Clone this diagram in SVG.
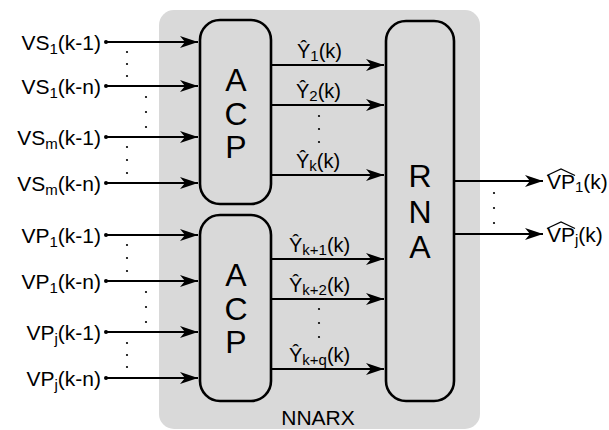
<svg xmlns="http://www.w3.org/2000/svg" width="609" height="430" viewBox="0 0 609 430">
<defs>
<marker id="ah" markerWidth="20" markerHeight="14" viewBox="-20 -7 20 14" refX="0" refY="0" markerUnits="userSpaceOnUse" orient="auto">
<path d="M0,0 L-18,-6 L-13,0 L-18,6 Z" fill="#000"/>
</marker>
<style>
text{font-family:"Liberation Sans",Arial,sans-serif;fill:#000}
.lbl{font-size:21px}
.yl{font-size:20px}
.sub{font-size:15px}
.big{font-size:32px}
.box{fill:none;stroke:#000;stroke-width:2.6}
.ar{stroke:#000;stroke-width:2;fill:none;marker-end:url(#ah)}
.dot{fill:#000}
</style>
</defs>
<rect id="bg" x="159" y="10" width="321" height="419" rx="15" fill="#d9d9d9"/>
<text class="lbl" x="318" y="425" text-anchor="middle">NNARX</text>

<g id="acp1">
<rect class="box" x="200" y="20" width="71" height="184" rx="20"/>
<text class="big" x="236" y="91" text-anchor="middle">A</text>
<text class="big" x="236" y="125" text-anchor="middle">C</text>
<text class="big" x="236" y="158" text-anchor="middle">P</text>
</g>
<g id="acp2">
<rect class="box" x="200" y="215" width="71" height="186" rx="20"/>
<text class="big" x="236" y="286" text-anchor="middle">A</text>
<text class="big" x="236" y="320" text-anchor="middle">C</text>
<text class="big" x="236" y="353" text-anchor="middle">P</text>
</g>
<g id="rna">
<rect class="box" x="386" y="21" width="68" height="380" rx="20"/>
<text class="big" x="420" y="187" text-anchor="middle">R</text>
<text class="big" x="420" y="223" text-anchor="middle">N</text>
<text class="big" x="420" y="258" text-anchor="middle">A</text>
</g>

<g id="inputs">
<text class="lbl" x="101" y="49.5" text-anchor="end">VS<tspan class="sub" dy="4">1</tspan><tspan dy="-4">(k-1)</tspan></text>
<text class="lbl" x="101" y="93.5" text-anchor="end">VS<tspan class="sub" dy="4">1</tspan><tspan dy="-4">(k-n)</tspan></text>
<text class="lbl" x="101" y="144.5" text-anchor="end">VS<tspan class="sub" dy="4">m</tspan><tspan dy="-4">(k-1)</tspan></text>
<text class="lbl" x="101" y="190.5" text-anchor="end">VS<tspan class="sub" dy="4">m</tspan><tspan dy="-4">(k-n)</tspan></text>
<text class="lbl" x="101" y="242.5" text-anchor="end">VP<tspan class="sub" dy="4">1</tspan><tspan dy="-4">(k-1)</tspan></text>
<text class="lbl" x="101" y="288.5" text-anchor="end">VP<tspan class="sub" dy="4">1</tspan><tspan dy="-4">(k-n)</tspan></text>
<text class="lbl" x="101" y="339.5" text-anchor="end">VP<tspan class="sub" dy="4">j</tspan><tspan dy="-4">(k-1)</tspan></text>
<text class="lbl" x="101" y="385.5" text-anchor="end">VP<tspan class="sub" dy="4">j</tspan><tspan dy="-4">(k-n)</tspan></text>
</g>

<g id="connectors">
<circle class="dot" cx="106" cy="42" r="2"/><path class="ar" d="M106,42 H198"/>
<circle class="dot" cx="106" cy="86" r="2"/><path class="ar" d="M106,86 H198"/>
<circle class="dot" cx="106" cy="137" r="2"/><path class="ar" d="M106,137 H198"/>
<circle class="dot" cx="106" cy="183" r="2"/><path class="ar" d="M106,183 H198"/>
<circle class="dot" cx="106" cy="235" r="2"/><path class="ar" d="M106,235 H198"/>
<circle class="dot" cx="106" cy="281" r="2"/><path class="ar" d="M106,281 H198"/>
<circle class="dot" cx="106" cy="332" r="2"/><path class="ar" d="M106,332 H198"/>
<circle class="dot" cx="106" cy="378" r="2"/><path class="ar" d="M106,378 H198"/>

<path class="ar" d="M271,65 H384"/>
<path class="ar" d="M271,105 H384"/>
<path class="ar" d="M271,175 H384"/>
<path class="ar" d="M271,259 H384"/>
<path class="ar" d="M271,299 H384"/>
<path class="ar" d="M271,369 H384"/>

<path class="ar" d="M454,181 H543"/>
<path class="ar" d="M454,234 H543"/>
</g>

<g id="dots">
<circle class="dot" cx="127" cy="52" r="1.1"/><circle class="dot" cx="127" cy="64" r="1.1"/><circle class="dot" cx="127" cy="76" r="1.1"/>
<circle class="dot" cx="146" cy="97" r="1.1"/><circle class="dot" cx="146" cy="112" r="1.1"/><circle class="dot" cx="146" cy="127" r="1.1"/>
<circle class="dot" cx="127" cy="147" r="1.1"/><circle class="dot" cx="127" cy="160" r="1.1"/><circle class="dot" cx="127" cy="173" r="1.1"/>
<circle class="dot" cx="127" cy="245" r="1.1"/><circle class="dot" cx="127" cy="258" r="1.1"/><circle class="dot" cx="127" cy="271" r="1.1"/>
<circle class="dot" cx="146" cy="292" r="1.1"/><circle class="dot" cx="146" cy="307" r="1.1"/><circle class="dot" cx="146" cy="322" r="1.1"/>
<circle class="dot" cx="127" cy="343" r="1.1"/><circle class="dot" cx="127" cy="355" r="1.1"/><circle class="dot" cx="127" cy="367" r="1.1"/>
<circle class="dot" cx="319" cy="116" r="1.1"/><circle class="dot" cx="319" cy="129" r="1.1"/><circle class="dot" cx="319" cy="142" r="1.1"/>
<circle class="dot" cx="319" cy="309" r="1.1"/><circle class="dot" cx="319" cy="323" r="1.1"/><circle class="dot" cx="319" cy="337" r="1.1"/>
<circle class="dot" cx="494" cy="193" r="1.1"/><circle class="dot" cx="494" cy="208" r="1.1"/><circle class="dot" cx="494" cy="223" r="1.1"/>
</g>

<g id="ylabels">
<text class="yl" x="297" y="58">Ŷ<tspan class="sub" dy="3">1</tspan><tspan dy="-3">(k)</tspan></text>
<text class="yl" x="296" y="98">Ŷ<tspan class="sub" dy="3">2</tspan><tspan dy="-3">(k)</tspan></text>
<text class="yl" x="296" y="168">Ŷ<tspan class="sub" dy="3">k</tspan><tspan dy="-3">(k)</tspan></text>
<text class="yl" x="289" y="252">Ŷ<tspan class="sub" dy="3">k+1</tspan><tspan dy="-3">(k)</tspan></text>
<text class="yl" x="289" y="292">Ŷ<tspan class="sub" dy="3">k+2</tspan><tspan dy="-3">(k)</tspan></text>
<text class="yl" x="289" y="362">Ŷ<tspan class="sub" dy="3">k+q</tspan><tspan dy="-3">(k)</tspan></text>
</g>

<g id="outputs">
<text class="lbl" x="547" y="188.5">VP<tspan class="sub" dy="3">1</tspan><tspan dy="-3">(k)</tspan></text>
<path d="M547,175.5 L561,169 L575,175.5" fill="none" stroke="#000" stroke-width="1.3"/>
<text class="lbl" x="547" y="241.5">VP<tspan class="sub" dy="3">j</tspan><tspan dy="-3">(k)</tspan></text>
<path d="M547,228.5 L561,222 L575,228.5" fill="none" stroke="#000" stroke-width="1.3"/>
</g>
</svg>
